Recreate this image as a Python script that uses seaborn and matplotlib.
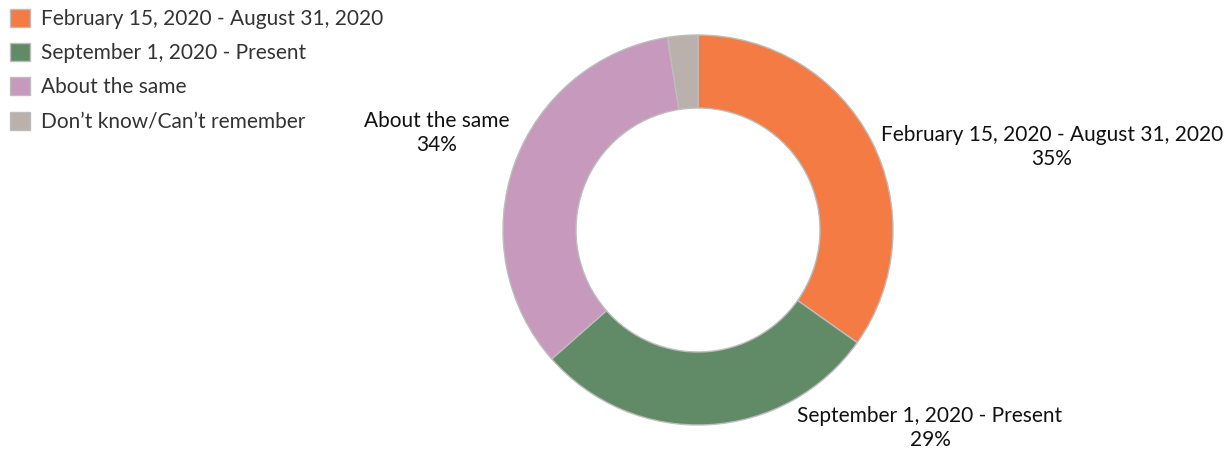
import matplotlib
matplotlib.use("Agg")
import matplotlib.pyplot as plt
import seaborn as sns

categories = ["February 15, 2020 - August 31, 2020", "September 1, 2020 - Present",
              "About the same", "Don\u2019t know/Can\u2019t remember"]
values = [34.8, 28.7, 34.0, 2.5]
pct_labels = ["35%", "29%", "34%", ""]
colors = ["#F47B44", "#618B66", "#C699BD", "#BAB0AC"]

sns.set_theme(style="white")
plt.rcParams["font.family"] = ["Lato", "DejaVu Sans"]

fig = plt.figure(figsize=(12.3, 4.54), dpi=100)
ax = fig.add_axes([0, 0, 1, 1])

wedges, _ = ax.pie(values, colors=colors, startangle=90, counterclock=False,
                   center=(698, 224), radius=195, frame=True,
                   wedgeprops=dict(width=73, edgecolor="#BDBDBD", linewidth=1))
ax.set_xlim(0, 1230)
ax.set_ylim(0, 454)
ax.set_aspect("equal")
ax.axis("off")

# slice labels (Tableau style, outside the ring)
label_pos = [(1052, 307), (930, 26), (437, 321)]
for (x, y), cat, pct in zip(label_pos, categories[:3], pct_labels[:3]):
    ax.text(x, y, cat + "\n" + pct, ha="center", va="center", fontsize=15,
            color="#111111", linespacing=1.2)

fig.legend(wedges, categories, loc="upper left", bbox_to_anchor=(0.003, 0.995),
           frameon=False, fontsize=15, labelcolor="#333333",
           handlelength=0.96, handleheight=0.96, handletextpad=0.55,
           labelspacing=0.68, borderaxespad=0.1, borderpad=0.2)

fig.savefig("out.png", dpi=100)
